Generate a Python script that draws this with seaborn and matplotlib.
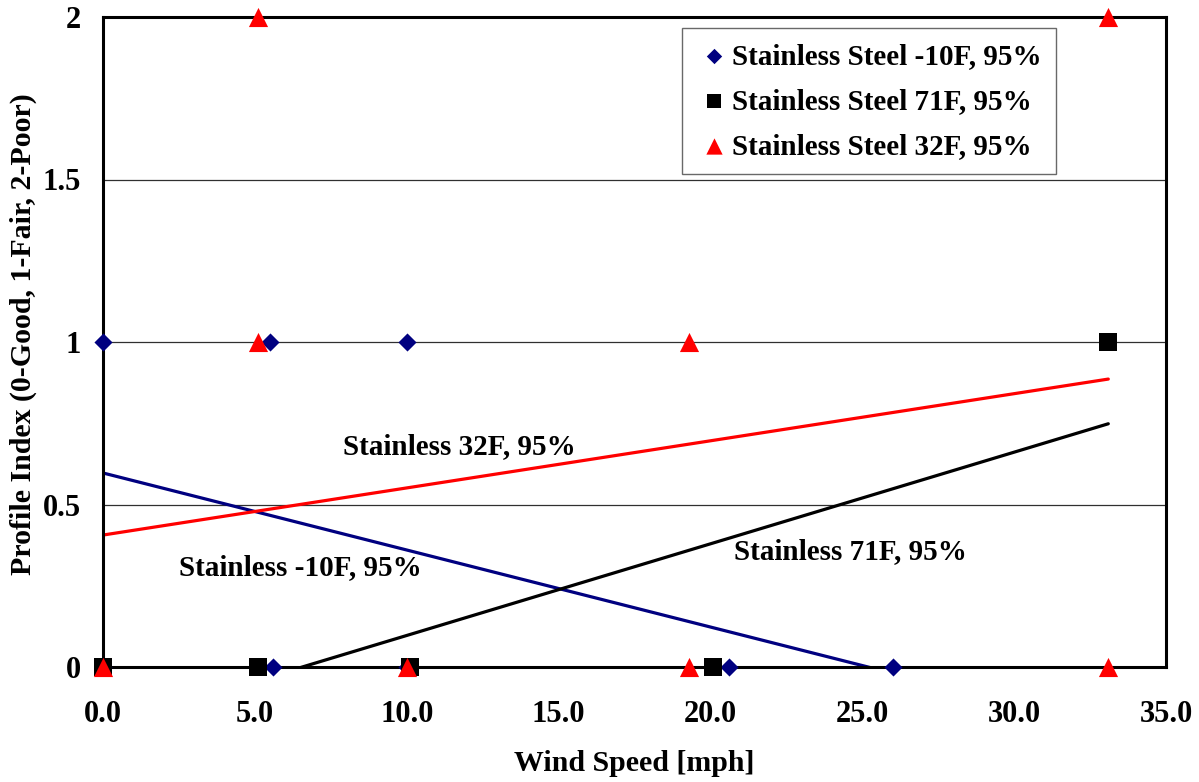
import matplotlib
matplotlib.use("Agg")
import matplotlib.pyplot as plt
import seaborn as sns
import numpy as np
import pandas as pd

# ---- data ----
minus10_x = [0.0, 5.5, 10.0, 0.0, 5.6, 10.0, 20.6, 26.0]
minus10_y = [1, 1, 1, 0, 0, 0, 0, 0]
f71_x = [0.0, 5.1, 10.1, 20.1, 33.1]
f71_y = [0, 0, 0, 0, 1]
f32_x = [0.0, 5.1, 5.1, 10.0, 19.3, 19.3, 33.1, 33.1]
f32_y = [0, 2, 1, 0, 1, 0, 2, 0]

# linear trendlines (intercept, slope)
trend_minus10 = (0.597, -0.0237)
trend_71 = (-0.185, 0.0282)
trend_32 = (0.406, 0.0145)
trend_x_range = (0.0, 33.1)

labels = ["Stainless Steel -10F, 95%", "Stainless Steel 71F, 95%", "Stainless Steel 32F, 95%"]
trend_labels = ["Stainless -10F, 95%", "Stainless 71F, 95%", "Stainless 32F, 95%"]
x_ticks = [0, 5, 10, 15, 20, 25, 30, 35]
y_ticks = [0, 0.5, 1, 1.5, 2]
y_tick_labels = ["0", "0.5", "1", "1.5", "2"]

# ---- style ----
sns.set_style("white")
plt.rcParams['font.family'] = ['Liberation Serif', 'DejaVu Serif']
plt.rcParams['font.weight'] = 'bold'
for k in ["text.color", "axes.labelcolor", "xtick.color", "ytick.color"]:
    plt.rcParams[k] = "black"

fig = plt.figure(figsize=(11.99, 7.82), dpi=100)
ax = fig.add_axes([103/1199, 1-667/782, (1166-103)/1199, (667-17)/782])

blue = "#000080"
black = "#000000"
red = "#FF0000"

# trendlines
xs = np.linspace(trend_x_range[0], trend_x_range[1], 200)
for (b, m), c in zip([trend_minus10, trend_71, trend_32], [blue, black, red]):
    sns.lineplot(x=xs, y=b + m * xs, color=c, linewidth=2.3, ax=ax, zorder=2)

df1 = pd.DataFrame({"x": minus10_x, "y": minus10_y})
df2 = pd.DataFrame({"x": f71_x, "y": f71_y})
df3 = pd.DataFrame({"x": f32_x, "y": f32_y})
sns.scatterplot(data=df1, x="x", y="y", marker="D", s=85, color=blue, edgecolor=blue,
                linewidth=0, ax=ax, label=labels[0], zorder=3, clip_on=False)
sns.scatterplot(data=df2, x="x", y="y", marker="s", s=150, color=black, edgecolor=black,
                linewidth=0, ax=ax, label=labels[1], zorder=4, clip_on=False)
sns.scatterplot(data=df3, x="x", y="y", marker="^", s=190, color=red, edgecolor=red,
                linewidth=0, ax=ax, label=labels[2], zorder=5, clip_on=False)

ax.set_xlim(0, 35)
ax.set_ylim(0, 2)
ax.set_xticks(x_ticks)
ax.set_xticklabels([f"{v:.1f}" for v in x_ticks], fontsize=22, fontweight="bold")
ax.set_yticks(y_ticks)
ax.set_yticklabels(y_tick_labels, fontsize=22, fontweight="bold")
ax.tick_params(axis="both", direction="out", length=5, width=1, color="black")
ax.tick_params(axis="x", pad=19)
ax.tick_params(axis="y", pad=11)

ax.yaxis.grid(True, color="#303030", linewidth=0.9)
ax.xaxis.grid(False)
ax.set_axisbelow(True)
for sp in ax.spines.values():
    sp.set_visible(True)
    sp.set_color("black")
    sp.set_linewidth(2.2)

ax.set_xlabel("Wind Speed [mph]", fontsize=21.5, fontweight="bold", labelpad=15)
ax.set_ylabel("Profile Index (0-Good, 1-Fair, 2-Poor)", fontsize=21.5, fontweight="bold",
              labelpad=4, y=0.512)

# trendline labels
ax.text(11.75, 0.677, trend_labels[2], fontsize=21, fontweight="bold", ha="center", va="center")
ax.text(6.49, 0.305, trend_labels[0], fontsize=21, fontweight="bold", ha="center", va="center")
ax.text(24.6, 0.354, trend_labels[1], fontsize=21, fontweight="bold", ha="center", va="center")

leg = ax.legend(loc="upper right", bbox_to_anchor=(0.8965, 0.983), borderaxespad=0,
                prop={"size": 21, "weight": "bold"}, frameon=True, fancybox=False,
                handletextpad=0.0, labelspacing=0.62, borderpad=0.5, handlelength=1.2,
                markerscale=0.85)
leg.get_frame().set_edgecolor("#444444")
leg.get_frame().set_linewidth(1.0)

fig.savefig("out.png", dpi=100, facecolor="white")
